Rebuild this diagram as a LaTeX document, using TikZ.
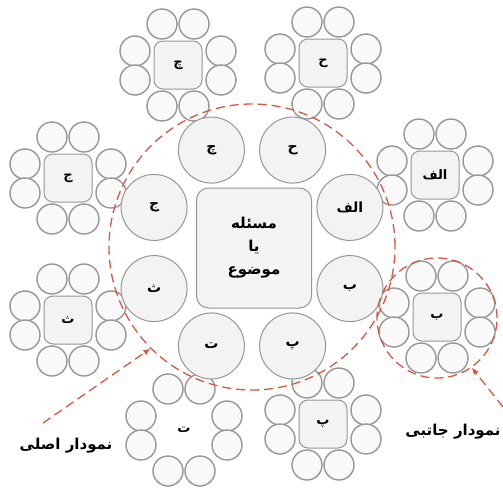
\documentclass[tikz,border=0pt]{standalone}
\usepackage{fontspec}
\newfontfamily\arabicfont[Script=Arabic]{DejaVu Sans}
\TeXXeTstate=1
\definecolor{dashred}{RGB}{214,88,66}
\definecolor{rimgray}{RGB}{150,150,150}
\definecolor{softgray}{RGB}{243,243,243}
\usetikzlibrary{arrows.meta,positioning,calc}

\newcommand{\fa}[1]{{\arabicfont\bfseries\beginR #1\endR}}

\tikzset{
  ringc/.style={circle, draw=rimgray, line width=1pt, fill=softgray,
    minimum size=66pt, inner sep=0pt, font=\fontsize{14}{16}\selectfont},
  petal/.style={circle, draw=rimgray, line width=1.4pt, fill=softgray!50,
    minimum size=30pt, inner sep=0pt},
  hubbox/.style={rectangle, rounded corners=9pt, draw=rimgray, line width=1pt,
    fill=softgray, minimum width=48pt, minimum height=48pt, inner sep=0pt,
    font=\fontsize{13}{15}\selectfont},
  ghostbox/.style={hubbox, draw=none, fill=none},
  dashring/.style={circle, draw=dashred, line width=1.3pt,
    dash pattern=on 9pt off 5pt, inner sep=0pt},
  pointer/.style={draw=dashred, line width=1.3pt, dash pattern=on 9pt off 5pt,
    -{Latex[length=7pt,width=6pt]}},
  caption/.style={font=\fontsize{15}{17}\selectfont},
}

\begin{document}
\begin{tikzpicture}[x=1pt, y=-1pt]
  \useasboundingbox (0,0) rectangle (503,493);

  % side diagrams
  \foreach \nm/\x/\y/\txt/\sty in {che/178/65/چ/hubbox, he/323/63/ح/hubbox,
      alef/435/175/الف/hubbox, be/437/317/ب/hubbox, pe/323/424/پ/hubbox,
      te/184/430/ت/ghostbox, se/68/320/ث/hubbox, jim/68/178/ج/hubbox}{
    \node[\sty] (sat-\nm) at (\x,\y) {\fa{\txt}};
    \foreach \dx/\dy [count=\k] in {-16/-41,16/-41,-43/-14,43/-14,-43/15,43/15,-16/41,16/41}
      \node[petal] (sat-\nm-\k) at ($(sat-\nm)+(\dx,\dy)$) {};
  }

  % main diagram
  \node[hubbox, minimum width=115pt, minimum height=120pt, rounded corners=12pt,
        align=center, font=\fontsize{15}{23}\selectfont] (topic) at (254,248)
       {\fa{مسئله}\\\fa{یا}\\\fa{موضوع}};
  \foreach \ang/\nm/\txt in {112.5/che/چ, 67.5/he/ح, 22.5/alef/الف, -22.5/be/ب,
      -67.5/pe/پ, -112.5/te/ت, -157.5/se/ث, 157.5/jim/ج}
    \node[ringc] (in-\nm) at ($(252,248)+(\ang:106pt)$) {\fa{\txt}};

  \node[dashring, minimum size=286pt] (bigring) at (252,247) {};
  \node[dashring, minimum size=120pt] (sidering) at (437,318) {};

  \node[caption] (mainlbl) at (66,446) {\fa{نمودار اصلی}};
  \node[caption] (sidelbl) at (453,432) {\fa{نمودار جاتبی}};

  \coordinate (mainfrom) at (43,423);
  \coordinate (sidefrom) at (503,407);
  \draw[pointer] (mainfrom) -- (bigring.225);
  \draw[pointer] (sidefrom) -- (sidering.-55);
\end{tikzpicture}
\end{document}
